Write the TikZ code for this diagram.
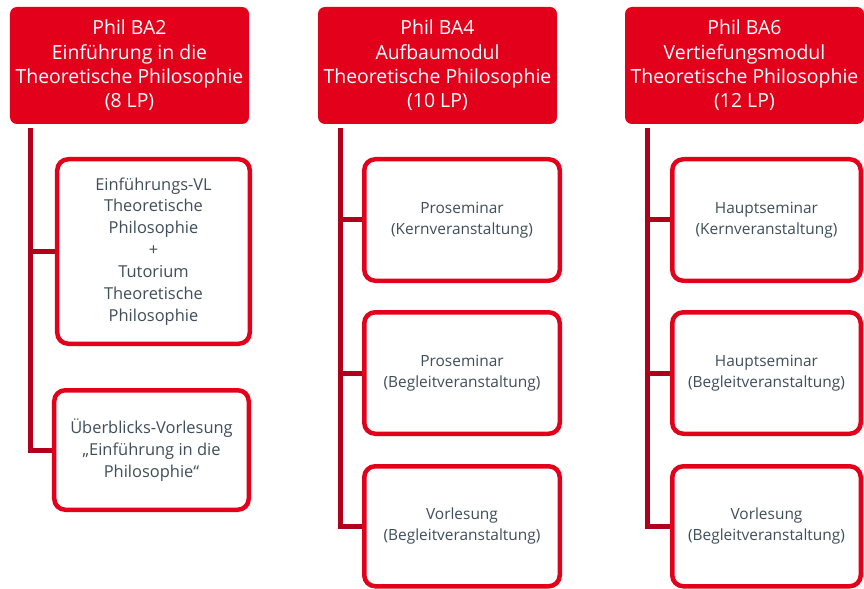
\documentclass[tikz,border=0pt]{standalone}
\usepackage{fontspec}
\setmainfont{Open Sans}
\usepackage{tikz}
\usetikzlibrary{positioning}
\definecolor{uniRot}{HTML}{E2001A}
\definecolor{stammRot}{HTML}{B0001C}
\definecolor{textGrau}{HTML}{3F4E5A}
\tikzset{
    modul/.style={
        rectangle,
        fill=uniRot,
        rounded corners=7bp,
        minimum width=239bp,
        minimum height=117bp,
        inner sep=0pt,
        text=white,
        align=center,
        font=\fontsize{19.5}{24.5}\selectfont
    },
    veranst/.style={
        rectangle,
        draw=uniRot,
        line width=4.5bp,
        rounded corners=11bp,
        fill=white,
        minimum width=195.5bp,
        minimum height=121.5bp,
        inner sep=0pt,
        text=textGrau,
        align=center,
        font=\fontsize{15.5}{21}\selectfont
    },
    veranstgross/.style={
        veranst,
        font=\fontsize{16.5}{22}\selectfont
    },
    stamm/.style={
        draw=stammRot,
        line width=5bp,
        line join=miter
    }
}

\begin{document}
\begin{tikzpicture}[x=1bp, y=-1bp]
\useasboundingbox (0,0) rectangle (864,589);

% Module headers
\node[modul] (ba2) at (129.5,65.5) {Phil BA2\\Einführung in die\\Theoretische Philosophie\\(8 LP)};
\node[modul] (ba4) at (437.5,65.5) {Phil BA4\\Aufbaumodul\\Theoretische Philosophie\\(10 LP)};
\node[modul] (ba6) at (744.5,65.5) {Phil BA6\\Vertiefungsmodul\\Theoretische Philosophie\\(12 LP)};

% BA2 courses
\node[veranstgross, minimum width=192.5bp, minimum height=184.5bp] (ba2vl) at (153.5,251.5) {Einführungs-VL\\Theoretische\\Philosophie\\+\\Tutorium\\Theoretische\\Philosophie};
\node[veranstgross, minimum width=194.5bp, minimum height=119.5bp] (ba2ue) at (151.5,450) {Überblicks-Vorlesung\\„Einführung in die\\Philosophie“};

% BA4 courses
\node[veranst] (ba4ps1) at (462,220) {Proseminar\\(Kernveranstaltung)};
\node[veranst, below=27bp of ba4ps1] (ba4ps2) {Proseminar\\(Begleitveranstaltung)};
\node[veranst, below=28bp of ba4ps2, minimum height=120bp] (ba4vl) {Vorlesung\\(Begleitveranstaltung)};

% BA6 courses
\node[veranst, minimum width=188.5bp] (ba6hs1) at (766.5,220) {Hauptseminar\\(Kernveranstaltung)};
\node[veranst, minimum width=188.5bp, below=27bp of ba6hs1] (ba6hs2) {Hauptseminar\\(Begleitveranstaltung)};
\node[veranst, minimum width=188.5bp, minimum height=120bp, below=28bp of ba6hs2] (ba6vl) {Vorlesung\\(Begleitveranstaltung)};

% Connectors
\coordinate (s2) at ([xshift=21bp,yshift=-4bp]ba2.south west);
\coordinate (s4) at ([xshift=23bp,yshift=-4bp]ba4.south west);
\coordinate (s6) at ([xshift=23bp,yshift=-4bp]ba6.south west);

\draw[stamm] (s2) |- (ba2ue.west);
\draw[stamm] (s2 |- ba2vl.west) -- (ba2vl.west);

\draw[stamm] (s4) |- (ba4vl.west);
\draw[stamm] (s4 |- ba4ps1.west) -- (ba4ps1.west);
\draw[stamm] (s4 |- ba4ps2.west) -- (ba4ps2.west);

\draw[stamm] (s6) |- (ba6vl.west);
\draw[stamm] (s6 |- ba6hs1.west) -- (ba6hs1.west);
\draw[stamm] (s6 |- ba6hs2.west) -- (ba6hs2.west);

\end{tikzpicture}
\end{document}
